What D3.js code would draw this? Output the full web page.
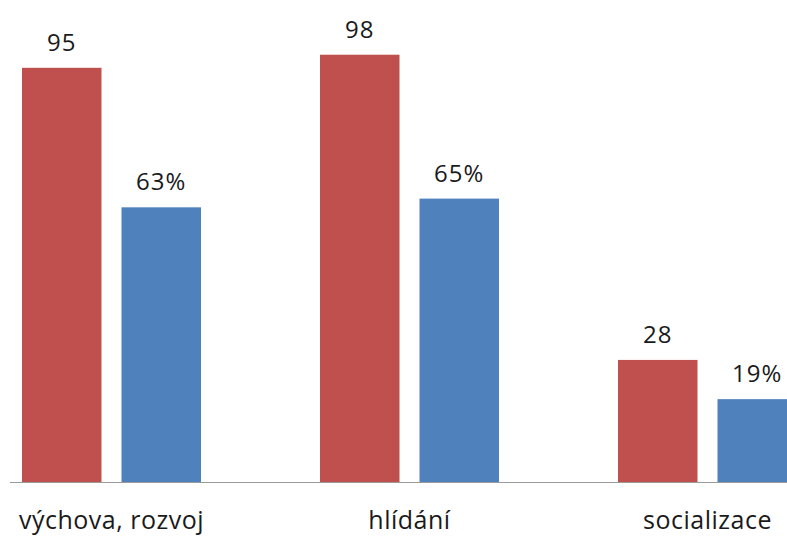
<!DOCTYPE html>
<html>
<head>
<meta charset="utf-8">
<script src="https://cdn.jsdelivr.net/npm/d3@7"></script>
<style>
  html, body { margin: 0; padding: 0; background: #ffffff; }
  svg { display: block; }
</style>
</head>
<body>
<svg id="chart" width="787" height="536"></svg>
<script>
// Categories and the two series (counts and shares in percent)
const categories = ["výchova, rozvoj", "hlídání", "socializace"];
const seriesKeys = ["count", "share"];
const countValues = [95, 98, 28];
const shareValues = [63, 65, 19];
const seriesLabelSuffix = ["", "%"];
const seriesColors = ["#C0504D", "#4F81BD"];

const svg = d3.select("#chart");
const W = 787, H = 536;
const baseY = 482;

// Category bands; the last group runs past the right edge
const x0 = d3.scaleBand()
  .domain(categories)
  .range([-37.5, 856.5])
  .paddingInner(0)
  .paddingOuter(0);

const x1 = d3.scaleBand()
  .domain(seriesKeys)
  .range([59.5, 238.5])
  .paddingInner(0.201)
  .paddingOuter(0);

const y = d3.scaleLinear()
  .domain([0, 110])
  .range([baseY, baseY - 110 * 4.36]);

const rows = categories.map((c, i) => ({
  category: c,
  values: [
    { key: "count", value: countValues[i], si: 0 },
    { key: "share", value: shareValues[i], si: 1 }
  ]
}));

const groups = svg.append("g").selectAll("g")
  .data(rows)
  .join("g")
  .attr("transform", d => `translate(${x0(d.category)},0)`);

groups.selectAll("rect")
  .data(d => d.values)
  .join("rect")
  .attr("x", d => x1(d.key))
  .attr("y", d => y(d.value))
  .attr("width", x1.bandwidth())
  .attr("height", d => y(0) - y(d.value))
  .attr("fill", d => seriesColors[d.si]);

// Value labels above each bar
groups.selectAll("text.val")
  .data(d => d.values)
  .join("text")
  .attr("class", "val")
  .attr("x", d => x1(d.key) + x1.bandwidth() / 2)
  .attr("y", d => y(d.value) - 17)
  .attr("text-anchor", "middle")
  .attr("font-family", "'Open Sans', sans-serif")
  .attr("font-size", 24)
  .attr("letter-spacing", 1)
  .attr("fill", "#1a1a1a")
  .text(d => d.value + seriesLabelSuffix[d.si]);

// Baseline
svg.append("line")
  .attr("x1", 10)
  .attr("x2", W)
  .attr("y1", baseY + 0.5)
  .attr("y2", baseY + 0.5)
  .attr("stroke", "#9a9a9a")
  .attr("stroke-width", 1);

// Category labels
const axis = d3.axisBottom(x0).tickSize(0).tickPadding(0);
const axisG = svg.append("g")
  .attr("transform", `translate(0,${baseY})`)
  .call(axis);
axisG.select(".domain").remove();
axisG.selectAll("text")
  .attr("y", 47)
  .attr("dy", 0)
  .attr("font-family", "'Open Sans', sans-serif")
  .attr("font-size", 25)
  .attr("letter-spacing", 0.5)
  .attr("fill", "#1a1a1a");
</script>
</body>
</html>
